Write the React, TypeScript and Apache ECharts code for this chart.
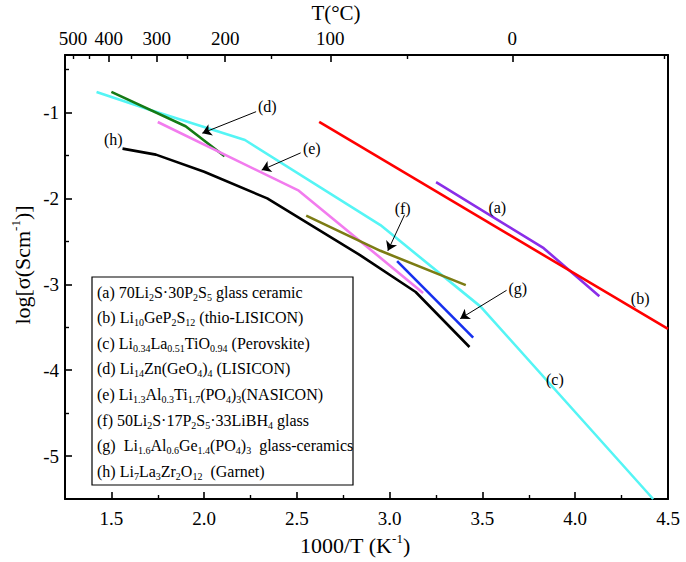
import React, { useEffect, useRef } from "react";
import * as echarts from "echarts";

const F = "Liberation Serif, Times New Roman, serif";

// x = 1000/T (K^-1), y = log(sigma)
const seriesA = [[3.25, -1.81], [3.83, -2.58], [4.13, -3.14]];
const seriesB = [[2.62, -1.11], [4.5, -3.52]];
const seriesC = [[1.42, -0.76], [1.71, -0.97], [2.22, -1.32], [2.95, -2.31], [3.49, -3.26], [4.42, -5.5]];
const seriesD = [[1.5, -0.76], [1.9, -1.16], [2.11, -1.51]];
const seriesE = [[1.75, -1.11], [2.51, -1.91], [3.18, -3.1]];
const seriesF = [[2.55, -2.2], [2.95, -2.61], [3.41, -3.01]];
const seriesG = [[3.04, -2.73], [3.45, -3.62]];
const seriesH = [[1.56, -1.42], [1.74, -1.49], [2.0, -1.69], [2.34, -2.0], [2.84, -2.66], [3.14, -3.09], [3.43, -3.73]];

const seriesColors = ["#8a2ee8", "#ff0000", "#55f5f5", "#157a15", "#f27cee", "#7c7c14", "#1630ee", "#000000"];
const seriesList = [seriesA, seriesB, seriesC, seriesD, seriesE, seriesF, seriesG, seriesH];

const annotLabels = ["(a)", "(b)", "(c)", "(d)", "(e)", "(f)", "(g)", "(h)"];
const annotX = [3.58, 4.35, 3.89, 2.34, 2.58, 3.07, 3.69, 1.51];
const annotY = [-2.1, -3.16, -4.11, -0.93, -1.42, -2.12, -3.05, -1.31];

const arrows = [
  [[2.28, -0.99], [1.99, -1.24]],
  [[2.52, -1.47], [2.31, -1.67]],
  [[3.08, -2.19], [2.99, -2.61]],
  [[3.63, -3.07], [3.38, -3.4]],
];

const xMajor = [1.5, 2.0, 2.5, 3.0, 3.5, 4.0, 4.5];
const xMinor = [1.75, 2.25, 2.75, 3.25, 3.75, 4.25];
const yMajor = [-5, -4, -3, -2, -1];
const yMinor = [-4.5, -3.5, -2.5, -1.5, -0.5];
const topLabelsC = [500, 400, 300, 200, 100, 0];
const topMajorC = [400, 300, 200, 100, 0];
const topMinorC = [500, 450, 350, 250, 150, 50, -50];

const legendLabels = [
  "(a) 70Li_{2}S·30P_{2}S_{5} glass ceramic",
  "(b) Li_{10}GeP_{2}S_{12} (thio-LISICON)",
  "(c) Li_{0.34}La_{0.51}TiO_{0.94} (Perovskite)",
  "(d) Li_{14}Zn(GeO_{4})_{4} (LISICON)",
  "(e) Li_{1.3}Al_{0.3}Ti_{1.7}(PO_{4})_{3}(NASICON)",
  "(f) 50Li_{2}S·17P_{2}S_{5}·33LiBH_{4} glass",
  "(g)  Li_{1.6}Al_{0.6}Ge_{1.4}(PO_{4})_{3}  glass-ceramics",
  "(h) Li_{7}La_{3}Zr_{2}O_{12}  (Garnet)",
];

const toInvT = (c: number) => 1000 / (c + 273.15);

function toRich(src: string) {
  return src
    .split(/(_\{[^}]*\}|\^\{[^}]*\})/)
    .filter((p) => p.length > 0)
    .map((p) => {
      if (p.startsWith("_{")) return `{s|${p.slice(2, -1)}}`;
      if (p.startsWith("^{")) return `{p|${p.slice(2, -1)}}`;
      return `{n|${p}}`;
    })
    .join("");
}

function richStyles(size: number) {
  return {
    n: { fontSize: size, fontFamily: F, color: "#000", lineHeight: size + 4, verticalAlign: "middle" },
    s: { fontSize: Math.round(size * 0.62), fontFamily: F, color: "#000", lineHeight: Math.round(size * 0.5), verticalAlign: "bottom" },
    p: { fontSize: Math.round(size * 0.6), fontFamily: F, color: "#000", lineHeight: Math.round(size * 0.55), verticalAlign: "top" },
  };
}

export default function App() {
  const ref = useRef<HTMLDivElement>(null);
  useEffect(() => {
    if (!ref.current) return;
    const chart = echarts.init(ref.current, undefined, { renderer: "svg" });
    const axisLine = { show: true, onZero: false, lineStyle: { color: "#000", width: 2 } };
    const labelStyle = { color: "#000", fontSize: 19, fontFamily: F };
    const common = { type: "value", min: 1.25, max: 4.5, splitLine: { show: false } };
    const ycommon = { type: "value", min: -5.5, max: -0.33, splitLine: { show: false } };

    const lineSeries = seriesList.map((d, i) => ({
      type: "line",
      data: d,
      xAxisIndex: 0,
      yAxisIndex: 0,
      showSymbol: false,
      symbol: "none",
      lineStyle: { color: seriesColors[i], width: 2.6 },
      itemStyle: { color: seriesColors[i] },
      silent: true,
      z: 3,
    }));

    const option: any = {
      animation: false,
      backgroundColor: "#fff",
      textStyle: { fontFamily: F },
      grid: { left: 65, right: 18, top: 55, bottom: 63, containLabel: false, outerBoundsMode: "none" },
      xAxis: [
        {
          ...common,
          position: "bottom",
          axisLine,
          axisTick: { show: true, inside: true, length: 7, lineStyle: { color: "#000", width: 1.6 }, customValues: xMajor },
          axisLabel: { ...labelStyle, margin: 10, customValues: xMajor, formatter: (v: number) => v.toFixed(1) },
        },
        {
          ...common,
          position: "bottom",
          axisLine: { show: false },
          axisTick: { show: true, inside: true, length: 4, lineStyle: { color: "#000", width: 1.4 }, customValues: xMinor },
          axisLabel: { show: false },
        },
        {
          ...common,
          position: "top",
          axisLine,
          axisTick: { show: true, inside: true, length: 7, lineStyle: { color: "#000", width: 1.6 }, customValues: topMajorC.map(toInvT) },
          axisLabel: {
            ...labelStyle,
            margin: 7,
            customValues: topLabelsC.map(toInvT),
            formatter: (v: number) => String(Math.round((1000 / v - 273.15) / 50) * 50 + 0),
          },
        },
        {
          ...common,
          position: "top",
          axisLine: { show: false },
          axisTick: { show: true, inside: true, length: 4, lineStyle: { color: "#000", width: 1.4 }, customValues: topMinorC.map(toInvT) },
          axisLabel: { show: false },
        },
      ],
      yAxis: [
        {
          ...ycommon,
          position: "left",
          axisLine,
          axisTick: { show: true, inside: true, length: 7, lineStyle: { color: "#000", width: 1.6 }, customValues: yMajor },
          axisLabel: { ...labelStyle, margin: 6, customValues: yMajor, formatter: (v: number) => String(v) },
        },
        {
          ...ycommon,
          position: "left",
          axisLine: { show: false },
          axisTick: { show: true, inside: true, length: 4, lineStyle: { color: "#000", width: 1.4 }, customValues: yMinor },
          axisLabel: { show: false },
        },
        {
          ...ycommon,
          position: "right",
          axisLine,
          axisTick: { show: false },
          axisLabel: { show: false },
        },
      ],
      series: [
        ...lineSeries,
        {
          type: "lines",
          coordinateSystem: "cartesian2d",
          xAxisIndex: 0,
          yAxisIndex: 0,
          symbol: ["none", "arrow"],
          symbolSize: 9,
          lineStyle: { color: "#000", width: 1, opacity: 1, curveness: 0 },
          data: arrows.map((a) => ({ coords: a })),
          silent: true,
          z: 5,
        },
        {
          type: "scatter",
          xAxisIndex: 0,
          yAxisIndex: 0,
          symbolSize: 0,
          itemStyle: { color: "#000", opacity: 1 },
          data: annotLabels.map((n, i) => ({ name: n, value: [annotX[i], annotY[i]] })),
          label: {
            show: true,
            position: "inside",
            formatter: "{b}",
            color: "#000",
            opacity: 1,
            textBorderWidth: 0,
            fontSize: 16,
            fontFamily: F,
          },
          silent: true,
          z: 6,
        },
      ],
      graphic: [
        {
          type: "rect",
          shape: { x: 92, y: 277, width: 261, height: 208 },
          style: { fill: "#fff", stroke: "#000", lineWidth: 1.2 },
          z: 10,
        },
        ...legendLabels.map((t, i) => ({
          type: "text",
          x: 97,
          y: 292 + i * 25.6,
          z: 11,
          style: { text: toRich(t), rich: richStyles(16), align: "left", verticalAlign: "middle" },
        })),
        {
          type: "text",
          x: 355,
          y: 545,
          z: 11,
          style: { text: toRich("1000/T (K^{-1})"), rich: richStyles(22), align: "center", verticalAlign: "middle" },
        },
        {
          type: "text",
          x: 22,
          y: 265,
          rotation: Math.PI / 2,
          z: 11,
          style: { text: toRich("log[σ(Scm^{-1})]"), rich: richStyles(22), align: "center", verticalAlign: "middle" },
        },
        {
          type: "text",
          x: 336,
          y: 13,
          z: 11,
          style: { text: toRich("T(°C)"), rich: richStyles(21), align: "center", verticalAlign: "middle" },
        },
      ],
    };
    chart.setOption(option);
    return () => chart.dispose();
  }, []);
  return <div ref={ref} style={{ position: "absolute", left: 0, top: 0, width: 686, height: 562 }} />;
}
